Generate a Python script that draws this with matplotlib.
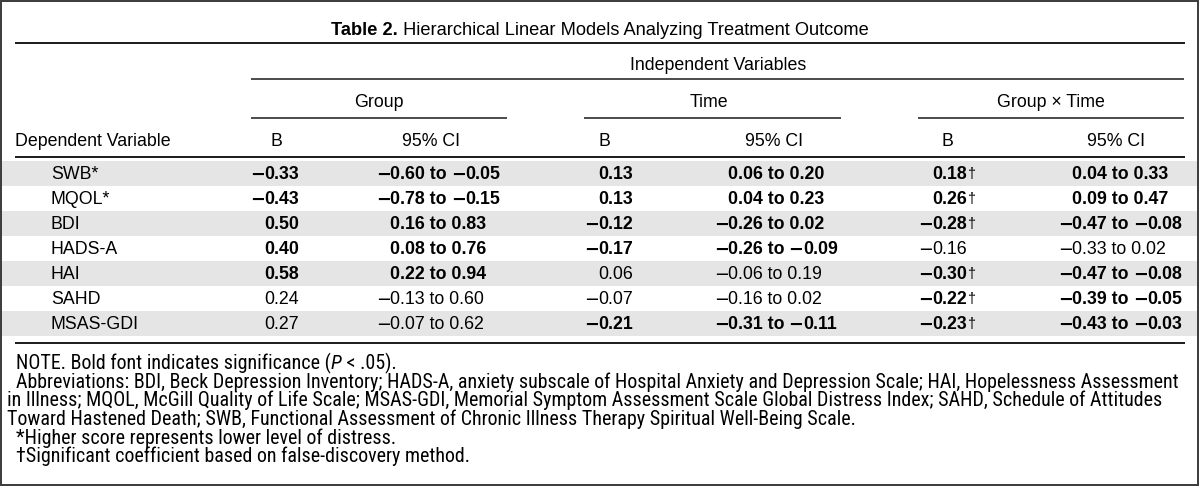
import matplotlib
matplotlib.use('Agg')
import matplotlib.pyplot as plt
from matplotlib.patches import Rectangle
from matplotlib import font_manager
from matplotlib.font_manager import FontProperties

# ---------------- data ----------------
variables = ['SWB*', 'MQOL*', 'BDI', 'HADS-A', 'HAI', 'SAHD', 'MSAS-GDI']

group_B = [-0.33, -0.43, 0.50, 0.40, 0.58, 0.24, 0.27]
group_lo = [-0.60, -0.78, 0.16, 0.08, 0.22, -0.13, -0.07]
group_hi = [-0.05, -0.15, 0.83, 0.76, 0.94, 0.60, 0.62]
group_sig = [1, 1, 1, 1, 1, 0, 0]

time_B = [0.13, 0.13, -0.12, -0.17, 0.06, -0.07, -0.21]
time_lo = [0.06, 0.04, -0.26, -0.26, -0.06, -0.16, -0.31]
time_hi = [0.20, 0.23, 0.02, -0.09, 0.19, 0.02, -0.11]
time_sig = [1, 1, 1, 1, 0, 0, 1]

gxt_B = [0.18, 0.26, -0.28, -0.16, -0.30, -0.22, -0.23]
gxt_lo = [0.04, 0.09, -0.47, -0.33, -0.47, -0.39, -0.43]
gxt_hi = [0.33, 0.47, -0.08, 0.02, -0.08, -0.05, -0.03]
gxt_sig = [1, 1, 1, 0, 1, 1, 1]
gxt_fdr = [1, 1, 1, 0, 1, 1, 1]

title_bold = 'Table 2.'
title_rest = ' Hierarchical Linear Models Analyzing Treatment Outcome'
spanner = 'Independent Variables'
groups = ['Group', 'Time', 'Group \u00d7 Time']
col_heads = ['B', '95% CI']
stub_head = 'Dependent Variable'

notes = [
    [('NOTE. Bold font indicates significance (', 'normal'), ('P', 'italic'), (' < .05).', 'normal')],
    [('Abbreviations: BDI, Beck Depression Inventory; HADS-A, anxiety subscale of Hospital Anxiety and Depression Scale; HAI, Hopelessness Assessment', 'normal')],
    [('in Illness; MQOL, McGill Quality of Life Scale; MSAS-GDI, Memorial Symptom Assessment Scale Global Distress Index; SAHD, Schedule of Attitudes', 'normal')],
    [('Toward Hastened Death; SWB, Functional Assessment of Chronic Illness Therapy Spiritual Well-Being Scale.', 'normal')],
    [('*Higher score represents lower level of distress.', 'normal')],
    [('\u2020Significant coefficient based on false-discovery method.', 'normal')],
]
note_x = [16, 16, 7, 7, 16, 16]

# ---------------- fonts ----------------
FONT = 'Liberation Sans'
MINUS_FONT = 'DejaVu Sans'


def find_condensed():
    prefs = ['liberationsansnarrow', 'robotocondensed', 'notosans-condensed', 'notosanscondensed',
             'opensanscondensed', 'opensans-condensed', 'dejavusanscondensed', 'condensed', 'narrow']
    cands = []
    for e in font_manager.fontManager.ttflist:
        fn = e.fname.lower().replace(' ', '').replace('_', '')
        base = fn.split('/')[-1]
        if e.style != 'normal':
            continue
        if ('condensed' in base or 'narrow' in base or e.stretch in ('condensed', 'semi-condensed')) \
                and 'bold' not in base and 'light' not in base and 'semi' not in base \
                and 'extra' not in base and 'black' not in base and 'medium' not in base \
                and 'thin' not in base and 'italic' not in base and 'mono' not in base:
            rank = len(prefs)
            for k, p in enumerate(prefs):
                if p in base:
                    rank = k
                    break
            cands.append((rank, e.fname))
    if cands:
        cands.sort()
        return cands[0][1]
    return None


_cond = find_condensed()


def note_fp(style='normal'):
    if _cond is not None and style == 'normal':
        return FontProperties(fname=_cond)
    if _cond is not None and style == 'italic':
        # look for the italic sibling of the condensed face
        for e in font_manager.fontManager.ttflist:
            b = e.fname.lower()
            if e.style == 'italic' and 'bold' not in b and (('condensed' in b or 'narrow' in b)
                                                               and b.split('/')[-1][:6] == _cond.lower().split('/')[-1][:6]):
                return FontProperties(fname=e.fname)
        return FontProperties(fname=_cond)
    return FontProperties(family=FONT, style=style)


# ---------------- layout ----------------
W, H = 1200, 488
DPI = 100
fig = plt.figure(figsize=(W / DPI, H / DPI), dpi=DPI)
ax = fig.add_axes([0, 0, 1, 1])
ax.set_xlim(0, W)
ax.set_ylim(H, 0)
ax.axis('off')
renderer = fig.canvas.get_renderer()
CAP = 0.716


def mkfp(size, weight='normal', style='normal', family=FONT, fp=None):
    if fp is not None:
        f = fp.copy()
        f.set_size(size)
        return f
    return FontProperties(family=family, weight=weight, style=style, size=size)


def tw(s, size, weight='normal', style='normal', family=FONT, fp=None):
    f = mkfp(size, weight, style, family, fp)

    def w(x):
        t = ax.text(0, 0, x, fontproperties=f)
        bb = t.get_window_extent(renderer)
        t.remove()
        return bb.width
    return w('X' + s + 'X') - w('XX')


def put(x, yc, s, size, weight='normal', style='normal', ha='left', family=FONT, dy=0.0, fp=None):
    f = mkfp(size, weight, style, family, fp)
    px = size * DPI / 72.0
    return ax.text(x, yc + CAP * px / 2.0 + dy, s, fontproperties=f, ha=ha, va='baseline', color='black')


def hline(x0, x1, y, lw=1.3, color='#1a1a1a'):
    ax.plot([x0, x1], [y, y], color=color, lw=lw, solid_capstyle='butt')


base = 12.0
fs = base * 156.0 / tw(stub_head, base)
fs_title = base * 538.0 / (tw(title_bold, base, 'bold') + tw(title_rest, base))
fs_note = base * 1162.0 / tw(notes[1][0][0], base, fp=note_fp())

MINUS = '\u2212'


def fmt(v):
    return ('%.2f' % v).replace('-', MINUS)


def runs_of(s):
    out, cur = [], ''
    for ch in s:
        if ch == MINUS:
            if cur:
                out.append((cur, FONT))
                cur = ''
            out.append((ch, MINUS_FONT))
        else:
            cur += ch
    if cur:
        out.append((cur, FONT))
    return out


def put_runs(x, yc, s, size, weight):
    for piece, fam in runs_of(s):
        if fam == MINUS_FONT:
            put(x - 1.0, yc, piece, size, weight, family=fam, dy=0.3)
            x += tw(piece, size, weight, family=fam) - 1.5
        else:
            put(x, yc, piece, size, weight, family=fam)
            x += tw(piece, size, weight, family=fam)
    return x


# frame
ax.add_patch(Rectangle((0.8, 0.8), W - 2.6, H - 3.4, fill=False, ec='#3a3a3a', lw=1.4))

# title
tb = tw(title_bold, fs_title, 'bold')
trest = tw(title_rest, fs_title)
tx = 600 - (tb + trest) / 2
put(tx, 28, title_bold, fs_title, 'bold')
put(tx + tb, 28, title_rest, fs_title)

hline(15, 1185, 42.7, lw=1.4)
put(718, 64, spanner, fs, ha='center')
hline(250.7, 1183.6, 79.3, lw=1.1)

group_centers = [379, 709, 1050.6]
rule_spans = [(250.7, 507), (583.6, 841), (917.6, 1183.6)]
for g, c, (a, b) in zip(groups, group_centers, rule_spans):
    put(c, 101, g, fs, ha='center')
    hline(a, b, 117.5, lw=1.1)

put(15, 140, stub_head, fs)
for bc, cc in zip([276, 604, 947], [430.5, 774, 1116]):
    put(bc, 140, col_heads[0], fs, ha='center')
    put(cc, 140, col_heads[1], fs, ha='center')
hline(15, 1185, 157, lw=1.4)

# rows
row_top = 160.5
pitch = 25.0
shade = '#e5e5e5'


def put_num(x0, yc, s, bold):
    w = 'bold' if bold else 'normal'
    if not s.startswith(MINUS):
        x0 = x0 + tw(MINUS, fs, w, family=MINUS_FONT) - 1.5
    return put_runs(x0, yc, s, fs, w)


cols = [
    (251.0, 377.0, group_B, group_lo, group_hi, group_sig, None),
    (585.0, 714.8, time_B, time_lo, time_hi, time_sig, None),
    (918.8, 1059.0, gxt_B, gxt_lo, gxt_hi, gxt_sig, gxt_fdr),
]

for i, var in enumerate(variables):
    top = row_top + i * pitch
    yc = top + pitch / 2
    if i % 2 == 0:
        ax.add_patch(Rectangle((1.5, top), W - 4, pitch, color=shade, lw=0, zorder=0))
    put(51, yc, var, fs)
    for xb, xc, B, lo, hi, sig, fdr in cols:
        end = put_num(xb, yc, fmt(B[i]), sig[i])
        if fdr is not None and fdr[i]:
            put(end, yc, '\u2020', fs * 0.8)
        put_num(xc, yc, fmt(lo[i]) + ' to ' + fmt(hi[i]), sig[i])

hline(15, 1185, 342.5, lw=1.4)

# notes
note_y0 = 362
note_dy = 18.6
for k, (runs, x) in enumerate(zip(notes, note_x)):
    yc = note_y0 + k * note_dy
    for s, st in runs:
        fpn = note_fp(st)
        put(x, yc, s, fs_note, fp=fpn)
        x += tw(s, fs_note, fp=fpn)

fig.savefig('out.png', dpi=DPI)
